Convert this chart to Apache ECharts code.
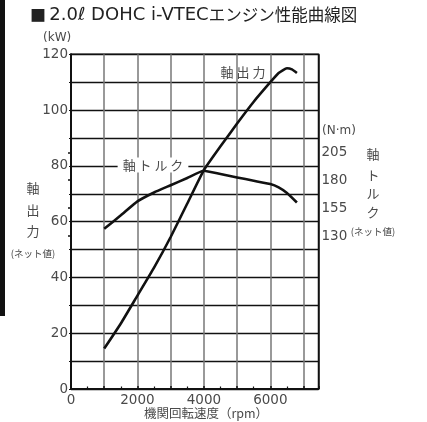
<!DOCTYPE html>
<html>
<head>
<meta charset="utf-8">
<script src="https://cdn.jsdelivr.net/npm/echarts@6/dist/echarts.min.js"></script>
<style>
html,body{margin:0;padding:0;background:#fff;}
#c{width:427px;height:422px;}
</style>
</head>
<body>
<div id="c"></div>
<script>
// ---- data ----
const rpmPower = [1000, 1500, 2000, 2500, 3000, 3500, 4000, 4500, 5000, 5500, 6000, 6250, 6500, 6650, 6800];
const powerKW  = [14.5, 23.5, 33.5, 43.5, 54.5, 66.5, 78.5, 87, 95.2, 103, 110, 113.3, 115, 114.6, 113.3];
const rpmTorque = [1000, 1500, 2000, 2500, 3000, 3500, 4000, 4500, 5000, 5500, 6000, 6250, 6500, 6800];
const torqueNm  = [136.5, 148.5, 161, 169, 175.5, 182, 188.5, 185.5, 182.5, 179.5, 176.5, 173.5, 168.5, 160];
const xTickLabels = [0, 2000, 4000, 6000];
const yTickLabels = [0, 20, 40, 60, 80, 100, 120];
const torqueTicks = [130, 155, 180, 205];

const chart = echarts.init(document.getElementById('c'), null, {renderer: 'canvas'});
const lblColor = '#4a4a4a';
const numFont = 'DejaVu Sans';
const cjk = 'Noto Sans CJK JP';

function txt(x, y, s, size, extra) {
  return {
    type: 'text', x: x, y: y, z: 10,
    style: Object.assign({
      text: s, fill: lblColor, font: size + 'px "' + cjk + '"',
      align: 'center', verticalAlign: 'middle'
    }, extra || {})
  };
}

const vColor = ['#777','#777','#777','#777','#777','#777','#777','#777','#111'];

const option = {
  animation: false,
  backgroundColor: '#fff',
  grid: [
    {left: 71, top: 54.3, width: 247.5, height: 334.7, show: true, borderColor: '#111', borderWidth: 1.5, backgroundColor: 'transparent'},
    {left: 71, top: 152.3, width: 247.5, height: 83.7, show: false}
  ],
  xAxis: [
    {
      type: 'value', gridIndex: 0, min: 0, max: 7450, interval: 1000,
      axisLine: {show: true, lineStyle: {color: '#111', width: 2}},
      axisTick: {show: true, inside: true, length: 3, lineStyle: {color: '#111', width: 1.5}},
      minorTick: {show: true, splitNumber: 2, length: 2.5, lineStyle: {color: '#111', width: 1.2}},
      axisLabel: {
        margin: 4, color: lblColor, fontFamily: numFont, fontSize: 13.5,
        formatter: v => xTickLabels.indexOf(v) >= 0 ? String(v) : ''
      },
      splitLine: {show: true, lineStyle: {color: vColor, width: 1.5}}
    },
    {type: 'value', gridIndex: 1, min: 0, max: 7450, show: false}
  ],
  yAxis: [
    {
      type: 'value', gridIndex: 0, min: 0, max: 120, interval: 10,
      axisLine: {show: true, lineStyle: {color: '#111', width: 2}},
      axisTick: {show: true, inside: false, length: 2, lineStyle: {color: '#111', width: 1.2}},
      axisLabel: {
        margin: 3, color: lblColor, fontFamily: numFont, fontSize: 13.5,
        formatter: v => yTickLabels.indexOf(v) >= 0 ? String(v) : ''
      },
      splitLine: {show: true, lineStyle: {color: '#111', width: 1.3}}
    },
    {
      type: 'value', gridIndex: 1, position: 'right', min: 130, max: 205, interval: 25,
      axisLine: {show: true, lineStyle: {color: '#111', width: 1.5}},
      axisTick: {show: true, inside: true, length: 3, lineStyle: {color: '#111', width: 1.5}},
      axisLabel: {
        margin: 3, color: lblColor, fontFamily: numFont, fontSize: 13.5,
        formatter: v => torqueTicks.indexOf(v) >= 0 ? String(v) : ''
      },
      splitLine: {show: false}
    }
  ],
  series: [
    {
      type: 'line', xAxisIndex: 0, yAxisIndex: 0, symbol: 'none',
      smooth: 0.15,
      lineStyle: {color: '#111', width: 2.6},
      data: rpmPower.map((r, i) => [r, powerKW[i]]), z: 5
    },
    {
      type: 'line', xAxisIndex: 1, yAxisIndex: 1, symbol: 'none',
      smooth: 0.15,
      lineStyle: {color: '#111', width: 2.6},
      data: rpmTorque.map((r, i) => [r, torqueNm[i]]), z: 5
    }
  ],
  graphic: [
    {type: 'rect', shape: {x: 0, y: 0, width: 5, height: 316}, style: {fill: '#111'}, z: 1},
    {
      type: 'text', x: 30, y: 15, z: 10,
      style: {
        rich: {
          a: {font: '16px "' + cjk + '"', fill: '#222'},
          b: {font: '18px "DejaVu Sans"', fill: '#222'},
          c: {font: '16.5px "' + cjk + '"', fill: '#222'}
        },
        text: '{a|■} {b|2.0ℓ DOHC i-VTEC}{c|エンジン性能曲線図}',
        verticalAlign: 'middle', align: 'left'
      }
    },
    txt(43, 38, '(kW)', 12, {font: '12px "DejaVu Sans"', align: 'left'}),
    txt(322, 131, '(N·m)', 12, {font: '12px "DejaVu Sans"', align: 'left'}),
    txt(33, 188, '軸', 13),
    txt(33, 210, '出', 13),
    txt(33, 231, '力', 13),
    txt(33, 253, '(ネット値)', 9.5),
    txt(373, 154, '軸', 13),
    txt(373, 175, 'ト', 13),
    txt(373, 193, 'ル', 13),
    txt(373, 212, 'ク', 13),
    txt(373, 231, '(ネット値)', 9.5),
    txt(153, 165, '軸 ト ル ク', 13, {backgroundColor: '#fff', padding: [1, 5]}),
    txt(243, 72, '軸 出 力', 13),
    txt(206, 413, '機関回転速度（rpm）', 12.5)
  ]
};
chart.setOption(option);
</script>
</body>
</html>
